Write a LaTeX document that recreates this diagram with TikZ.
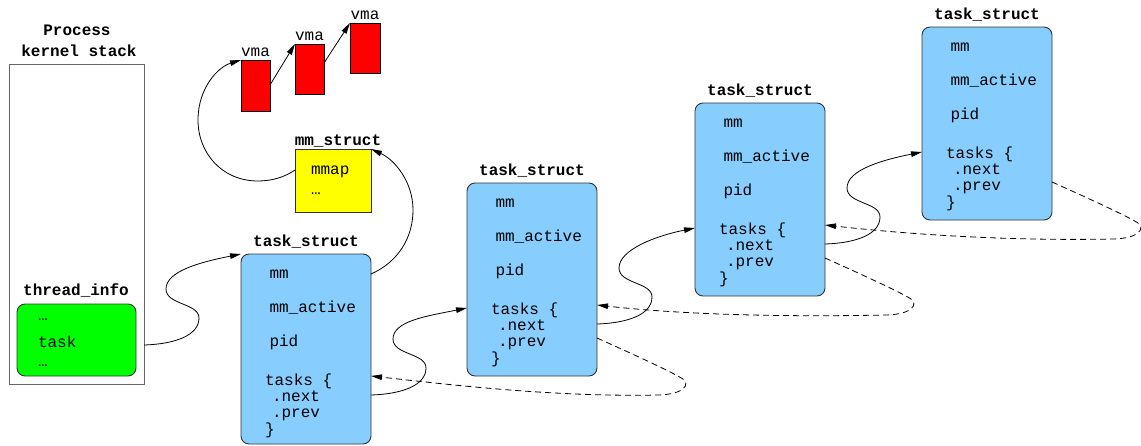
\documentclass[tikz,border=0pt]{standalone}
\usepackage{fontspec}
\setmonofont{Liberation Mono}
\usetikzlibrary{arrows.meta,calc}
\definecolor{tblue}{HTML}{87CEFF}
\definecolor{tgreen}{HTML}{00FF00}
\definecolor{tyellow}{HTML}{FFFF00}
\definecolor{tred}{HTML}{FF0000}
\tikzset{
  every node/.style={inner sep=0pt, outer sep=0pt},
  tbox/.style={draw=black!80, fill=tblue, rounded corners=8pt, minimum width=130pt, anchor=north west, line width=0.9pt},
  txt/.style={anchor=base west},
  ttl/.style={anchor=base, font=\ttfamily\bfseries\fontsize{16}{19}\selectfont},
  lbl/.style={anchor=base},
  conn/.style={line width=0.8pt, -{Triangle[length=11pt,width=5.5pt]}},
  dconn/.style={conn, dash pattern=on 6pt off 4pt},
  vmabox/.style={draw=black, fill=tred, anchor=north west, line width=0.8pt},
}
\newcommand\taskbox[4]{%
  \node[tbox, minimum height=#4pt] (#1) at (#2,#3) {};
  \node[ttl] (#1-title) at ([yshift=8pt]#1.north) {task\_struct};
  \node[txt] (#1-mm) at ([xshift=28.5pt,yshift=-24pt]#1.north west) {mm};
  \node[txt] (#1-mma) at ([xshift=28.5pt,yshift=-58pt]#1.north west) {mm\_active};
  \node[txt] (#1-pid) at ([xshift=28.5pt,yshift=-92pt]#1.north west) {pid};
  \node[txt] (#1-tasks) at ([xshift=24pt,yshift=-131pt]#1.north west) {tasks \{};
  \node[txt] (#1-next) at ([xshift=31pt,yshift=-147pt]#1.north west) {.next};
  \node[txt] (#1-prev) at ([xshift=31pt,yshift=-163.5pt]#1.north west) {.prev};
  \node[txt] (#1-close) at ([xshift=24pt,yshift=-180pt]#1.north west) {\}};
  \coordinate (#1-nx) at ([yshift=-141pt]#1.north east);
  \coordinate (#1-in) at ([yshift=-125pt]#1.north west);
  \coordinate (#1-pv) at ([yshift=-155pt]#1.north east);
  \coordinate (#1-tk) at ([yshift=-122pt]#1.north east);
  \coordinate (#1-mmr) at ([yshift=-20pt]#1.north east);
}
\newcommand\chainarrow[2]{%
  \draw[conn] (#1) .. controls ($(#1)+(32,-1)$) and ($(#1)+(55,-10)$) .. ($(#1)+(55,-27)$)
    .. controls ($(#1)+(55,-42)$) and ($(#1)+(22,-40)$) .. ($(#1)+(22,-56)$)
    .. controls ($(#1)+(22,-74)$) and ($(#2)+(-40,8)$) .. (#2);}
\newcommand\backarrow[2]{%
  \draw[dconn] (#1) .. controls ($(#1)+(40,18)$) and ($(#1)+(75,34)$) .. ($(#1)+(86,41)$)
    .. controls ($(#1)+(93,46)$) and ($(#1)+(88,56)$) .. ($(#1)+(62,57)$)
    .. controls ($(#1)+(-40,59)$) and ($(#2)+(90,10)$) .. (#2);}
\begin{document}
\begin{tikzpicture}[x=1pt, y=-1pt, font=\ttfamily\fontsize{16}{19}\selectfont]
\useasboundingbox (0,0) rectangle (1141,445);

% kernel stack
\node[draw=black!60, fill=white, line width=0.9pt, minimum width=135pt, minimum height=320pt, anchor=north west] (ks) at (9,64) {};
\node[ttl] (ks-t1) at (77,35) {Process};
\node[ttl] (ks-t2) at (79,56) {kernel stack};
\node[ttl] (ti-title) at (76,295) {thread\_info};
\node[draw=black!80, fill=tgreen, rounded corners=8pt, line width=0.9pt, minimum width=119pt, minimum height=72pt, anchor=north west] (ti) at (17,304) {};
\node[txt] (ti-d1) at (38,320) {…};
\node[txt] (ti-task) at (38,347) {task};
\node[txt] (ti-d2) at (38,366) {…};
\coordinate (ks-out) at ([yshift=-281pt]ks.north east);

% mm_struct
\node[draw=black!80, fill=tyellow, line width=0.9pt, minimum width=76pt, minimum height=63pt, anchor=north west] (mms) at (295,149) {};
\node[ttl] (mms-title) at (338,145) {mm\_struct};
\node[txt] (mms-mmap) at (311,174) {mmap};
\node[txt] (mms-d) at (311,194) {…};
\coordinate (mms-out) at ([yshift=-21pt]mms.north west);

% vma
\node[vmabox, minimum width=29pt, minimum height=51pt] (vma1) at (241,60) {};
\node[vmabox, minimum width=29pt, minimum height=50pt] (vma2) at (295,44) {};
\node[vmabox, minimum width=30pt, minimum height=50pt] (vma3) at (350,23) {};
\node[lbl] (vma1-l) at ([yshift=4pt]vma1.north) {vma};
\node[lbl] (vma2-l) at ([yshift=4pt]vma2.north) {vma};
\node[lbl] (vma3-l) at ([yshift=4pt]vma3.north) {vma};
\draw[conn] ([yshift=-25pt]vma1.north east) -- (vma2.north west);
\draw[conn] ([yshift=-19pt]vma2.north east) -- (vma3.north west);

% task_structs
\taskbox{t1}{241}{254}{190}
\taskbox{t2}{467}{183}{193}
\taskbox{t3}{695}{103}{193}
\taskbox{t4}{922}{27}{193}

% connectors
\draw[conn] (mms-out) .. controls (285,177) and (272,181) .. (258,181)
  .. controls (222,181) and (198,153) .. (198,120)
  .. controls (198,88) and (218,67) .. (vma1.north west);
\draw[conn] (t1-mmr) .. controls (398,262) and (413,238) .. (413,210)
  .. controls (413,182) and (395,160) .. (mms.north east);

\chainarrow{ks-out}{t1.north west}
\chainarrow{t1-nx}{t2-in}
\chainarrow{t2-nx}{t3-in}
\chainarrow{t3-nx}{t4-in}

\backarrow{t2-pv}{t1-tk}
\backarrow{t3-pv}{t2-tk}
\backarrow{t4-pv}{t3-tk}
\end{tikzpicture}
\end{document}
